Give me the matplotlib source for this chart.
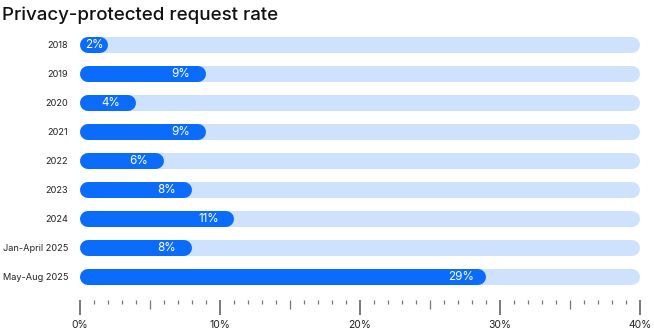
import numpy as np
import matplotlib.pyplot as plt

# request rate by period (%)
periods = ["2018", "2019", "2020", "2021", "2022", "2023", "2024",
           "Jan-April 2025", "May-Aug 2025"]
rates = [2, 9, 4, 9, 6, 8, 11, 8, 29]
axis_max = 40

plt.rcParams["font.family"] = ["Inter", "DejaVu Sans"]

BLUE = "#0b6cfc"
LIGHT = "#cfe2fd"

W, H, DPI = 654, 334, 100
fig = plt.figure(figsize=(W / DPI, H / DPI), dpi=DPI)

# axes placed in pixel terms: 0% at x=80, 40% at x=640
left, right = 80, 640
top, bottom = 30.5, 300
ax = fig.add_axes([left / W, 1 - bottom / H, (right - left) / W, (bottom - top) / H])

bar_px = 16
lw = bar_px * 72 / DPI
px_per_unit = (right - left) / axis_max
cap = (bar_px / 2) / px_per_unit  # round cap radius in data units

y = np.arange(len(periods))
for i, v in enumerate(rates):
    # background track and value bar as round-capped lines
    ax.plot([cap, axis_max - cap], [i, i], color=LIGHT, lw=lw,
            solid_capstyle="round", zorder=1)
    ax.plot([cap, max(v - cap, cap)], [i, i], color=BLUE, lw=lw,
            solid_capstyle="round", zorder=2)
    lx = max(v - 1.8, v / 2)
    ax.text(lx, i, f"{v}%", color="white", ha="center", va="center",
            fontsize=8.4, zorder=3)

ax.set_xlim(0, axis_max)
ax.set_ylim((bottom - 45) / 29, -(45 - top) / 29)

ax.set_yticks(y)
ax.set_yticklabels(periods, fontsize=6.6, color="#222222")
ax.tick_params(axis="y", length=0, pad=8.5)

ax.set_xticks(np.arange(0, axis_max + 1, 10))
ax.set_xticklabels([f"{t}%" for t in range(0, axis_max + 1, 10)], fontsize=7.5,
                   color="#222222")
ax.set_xticks([t for t in range(0, axis_max + 1) if t % 5 != 0], minor=True)
ax.tick_params(axis="x", which="major", length=10.5, width=1.1, color="#555555",
               pad=4)
ax.tick_params(axis="x", which="minor", length=3, width=0.9, color="#777777")

# mid-level ticks at the 5% marks
sec = ax.secondary_xaxis("bottom")
sec.set_xticks(np.arange(5, axis_max, 10))
sec.set_xticklabels([])
sec.tick_params(axis="x", length=6.5, width=0.9, color="#777777")
sec.spines["bottom"].set_visible(False)

for s in ax.spines.values():
    s.set_visible(False)

fig.text(2 / W, 1 - 19.5 / H, "Privacy-protected request rate", fontsize=13.5,
         fontweight="medium", color="#111111", ha="left", va="baseline")

fig.savefig("out.png", dpi=DPI)
